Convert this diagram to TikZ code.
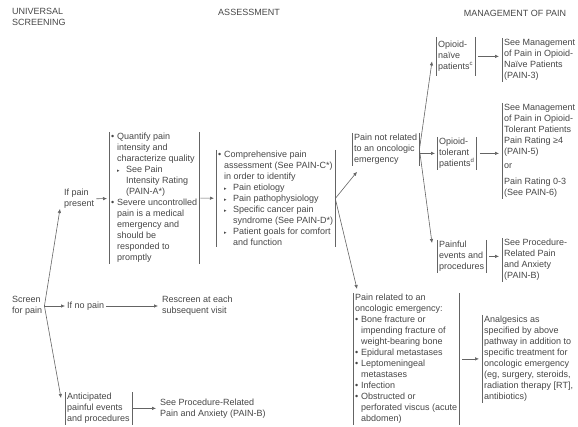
\documentclass[tikz,border=0pt]{standalone}
\usepackage{fontspec}
\setmainfont{Liberation Sans}
\newfontfamily\symfont{DejaVu Sans}
\usepackage{tikz}
\usetikzlibrary{
    arrows.meta,
    positioning,
    calc
}
\definecolor{inkgray}{RGB}{70, 70, 70}
\definecolor{linegray}{RGB}{100, 100, 100}
\newcommand{\bul}{\makebox[6pt][l]{\textbullet}}
\newcommand{\tri}{\hspace*{6pt}\makebox[9pt][l]{\symfont\tiny ▸}}
\newcommand{\hgA}{\hspace*{6pt}}
\newcommand{\hgB}{\hspace*{15pt}}
\tikzstyle{txt} = [
    inner xsep=2pt,
    inner ysep=1pt,
    text=inkgray,
    font=\fontsize{9}{11}\selectfont,
    align=left
]
\tikzstyle{bar} = [
    draw=linegray,
    line width=0.8pt
]
\tikzstyle{box} = [
    txt,
    anchor=north west,
    append after command={
        (\tikzlastnode.north west) edge[bar] (\tikzlastnode.south west)
        (\tikzlastnode.north east) edge[bar] (\tikzlastnode.south east)
    }
]
\tikzstyle{lbox} = [
    txt,
    anchor=north west,
    append after command={
        (\tikzlastnode.north west) edge[bar] (\tikzlastnode.south west)
    }
]
\tikzstyle{arrow} = [
    -{Latex[length=4pt,width=3.5pt]},
    draw=linegray,
    line width=0.6pt
]
\begin{document}
\begin{tikzpicture}[
    x=1pt,
    y=-1pt
]
    \useasboundingbox (0,0) rectangle (578,427);

    % Column headers
    \node[txt, anchor=north west] (hdrscr) at (10,7) {UNIVERSAL\\SCREENING};
    \node[txt] (hdrass) at (249,12) {ASSESSMENT};
    \node[txt] (hdrman) at (515,13) {MANAGEMENT OF PAIN};

    % Universal screening
    \node[txt, anchor=west] (screen) at (10,306) {Screen\\for pain};
    \node[txt, anchor=west] (ifpain) at (62,199) {If pain\\present};
    \node[txt, anchor=west] (nopain) at (65,306) {If no pain};
    \node[box] (antic) at (65,392) {Anticipated\\painful events\\and procedures};

    % Assessment
    \node[box] (quant) at (109,132) {\bul Quantify pain\\\hgA intensity and\\\hgA characterize quality\\\tri See Pain\\\hgB Intensity Rating\\\hgB (PAIN-A*)\\\bul Severe uncontrolled\\\hgA pain is a medical\\\hgA emergency and\\\hgA should be\\\hgA responded to\\\hgA promptly};
    \node[box] (compr) at (216,150) {\bul Comprehensive pain\\\hgA assessment (See PAIN-C*)\\\hgA in order to identify\\\tri Pain etiology\\\tri Pain pathophysiology\\\tri Specific cancer pain\\\hgB syndrome (See PAIN-D*)\\\tri Patient goals for comfort\\\hgB and function};
    \node[txt, anchor=west] (rescreen) at (160,306) {Rescreen at each\\subsequent visit};
    \node[txt, anchor=west] (seeproc2) at (158,409) {See Procedure-Related\\Pain and Anxiety (PAIN-B)};

    % Pain not related to an oncologic emergency
    \node[box] (notrel) at (352,133) {Pain not related\\to an oncologic\\emergency};
    \node[box, inner ysep=4pt] (naive) at (436,37) {Opioid-\\naïve\\patients\textsuperscript{c}};
    \node[lbox] (seenaive) at (502,38) {See Management\\of Pain in Opioid-\\Naïve Patients\\(PAIN-3)};
    \node[box] (toler) at (437,137) {Opioid-\\tolerant\\patients\textsuperscript{d}};
    \node[lbox] (seetoler) at (502,103) {See Management\\of Pain in Opioid-\\Tolerant Patients\\Pain Rating ≥4\\(PAIN-5)\\[3pt]or\\[5pt]Pain Rating 0-3\\(See PAIN-6)};
    \node[box] (events) at (437,240) {Painful\\events and\\procedures};
    \node[lbox] (seeproc) at (502,238) {See Procedure-\\Related Pain\\and Anxiety\\(PAIN-B)};

    % Pain related to an oncologic emergency
    \node[box] (related) at (353,293) {Pain related to an\\oncologic emergency:\\\bul Bone fracture or\\\hgA impending fracture of\\\hgA weight-bearing bone\\\bul Epidural metastases\\\bul Leptomeningeal\\\hgA metastases\\\bul Infection\\\bul Obstructed or\\\hgA perforated viscus (acute\\\hgA abdomen)};
    \node[lbox] (analg) at (482,315) {Analgesics as\\specified by above\\pathway in addition to\\specific treatment for\\oncologic emergency\\(eg, surgery, steroids,\\radiation therapy [RT],\\antibiotics)};

    % Arrows from screening
    \draw[arrow] (screen.east) -- ([shift={(-2,-1)}]ifpain.south west);
    \draw[arrow] (screen.east) -- (nopain.west);
    \draw[arrow] (screen.east) -- ([shift={(-4,6)}]antic.north west);
    \draw[arrow, shorten >=2pt] (ifpain) -- (quant);
    \draw[arrow, shorten >=2pt] (nopain) -- (rescreen);
    \draw[arrow, shorten >=2pt] (antic) -- (antic -| seeproc2.west);

    % Arrows within assessment
    \draw[arrow, shorten <=1pt, shorten >=2pt] (quant) -- (compr);
    \draw[arrow] (compr.east) -- ([shift={(5,6)}]notrel.south west);
    \draw[arrow] (compr.east) -- ([shift={(4,-4)}]related.north west);

    % Arrows to management
    \draw[arrow] (notrel.east) -- ([shift={(-4,5)}]naive.west);
    \draw[arrow, shorten >=2pt] (notrel.east |- toler.west) -- (toler.west);
    \draw[arrow] (notrel.east) -- ([shift={(-5,3)}]events.north west);
    \draw[arrow, shorten <=3pt, shorten >=3pt] (naive) -- (naive -| seenaive.west);
    \draw[arrow, shorten <=3pt, shorten >=3pt] (toler) -- (toler -| seetoler.west);
    \draw[arrow, shorten <=3pt, shorten >=3pt] (events) -- (events -| seeproc.west);
    \draw[arrow, shorten <=3pt, shorten >=3pt] (related) -- (related -| analg.west);

\end{tikzpicture}
\end{document}
